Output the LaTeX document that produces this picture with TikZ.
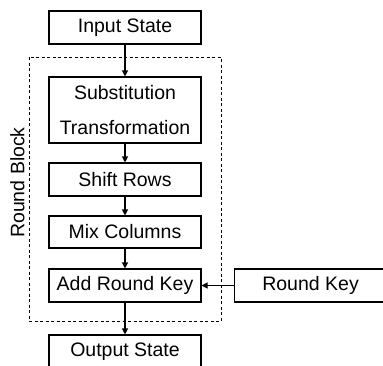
\documentclass[tikz,border=0pt]{standalone}
\usepackage{fontspec}
\setmainfont{Liberation Sans}
\usetikzlibrary{arrows.meta}
\begin{document}
\begin{tikzpicture}[x=1pt,y=-1pt,
  box/.style={draw,line width=1.1pt,inner sep=0pt,font=\fontsize{19.5}{35}\selectfont,align=center},
  arr/.style={line width=1.1pt,-{Triangle[length=6pt,width=6pt]}}]
\useasboundingbox (0,0) rectangle (383,365);
\node[box,minimum width=152pt,minimum height=33pt] (in) at (125,27.5) {Input State};
\node[box,minimum width=152pt,minimum height=66pt] (sub) at (125,110) {Substitution\\Transformation};
\node[box,minimum width=152pt,minimum height=33pt] (sr) at (125,179.5) {Shift Rows};
\node[box,minimum width=152pt,minimum height=32pt] (mc) at (125,232) {Mix Columns};
\node[box,minimum width=152pt,minimum height=33pt] (ark) at (125,285.5) {Add Round Key};
\node[box,minimum width=152pt,minimum height=33pt] (out) at (125,351.5) {Output State};
\node[box,minimum width=172pt,minimum height=33pt,anchor=west] (rk) at (234,285.5) {\hspace*{-20pt}Round Key};
\draw[line width=1pt,dash pattern=on 3pt off 2.5pt] (29,57) rectangle (221,321);
\node[rotate=90,font=\fontsize{19.5}{24}\selectfont] (rb) at (17.5,182.5) {Round Block};
\draw[arr] (in) -- (sub);
\draw[arr] (sub) -- (sr);
\draw[arr] (sr) -- (mc);
\draw[arr] (mc) -- (ark);
\draw[arr] (ark) -- (out);
\draw[arr] (rk) -- (ark);
\end{tikzpicture}
\end{document}
